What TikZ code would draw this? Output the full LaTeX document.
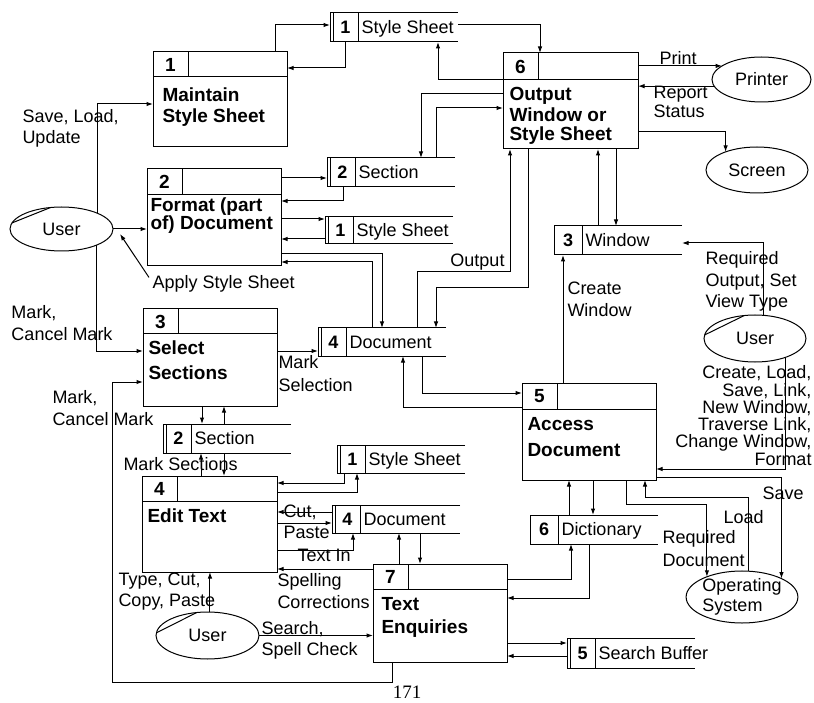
\documentclass[tikz,border=0pt]{standalone}
\usepackage{fontspec}
\setmainfont{Liberation Sans}
\newfontfamily\pagefont{Liberation Serif}
\usetikzlibrary{arrows.meta,shapes.geometric}
\tikzset{
  flow/.style={-{Latex[length=6.5pt,width=4.5pt]}},
  pbox/.style={draw, rectangle, inner sep=0pt, outer sep=0pt},
  pnum/.style={font=\bfseries\fontsize{19}{22}\selectfont, inner sep=0pt},
  ptitle/.style={font=\bfseries\fontsize{19}{22}\selectfont, inner sep=0pt, anchor=base west},
  sbox/.style={rectangle, inner sep=0pt, outer sep=0pt},
  snum/.style={font=\bfseries\fontsize{18}{20}\selectfont, inner sep=0pt},
  slab/.style={font=\fontsize{18}{20}\selectfont, inner sep=0pt, anchor=base west},
  lab/.style={font=\fontsize{18}{20}\selectfont, inner sep=0pt, anchor=base west},
  labr/.style={font=\fontsize{18}{20}\selectfont, inner sep=0pt, anchor=base east},
  ent/.style={draw, ellipse, inner sep=0pt, outer sep=0pt, font=\fontsize{18}{20}\selectfont},
}
% process box: name, x, y, w, h, header height, number
\newcommand\procbox[7]{%
  \node[pbox, minimum width=#4pt, minimum height=#5pt, anchor=north west] (#1) at (#2,#3) {};
  \draw ([yshift=-#6pt]#1.north west) -- ([yshift=-#6pt]#1.north east);
  \draw ([xshift=35pt]#1.north west) -- ([xshift=35pt,yshift=-#6pt]#1.north west);
  \node[pnum] (#1n) at ([xshift=17.5pt,yshift={-#6/2}]#1.north west) {#7};
}
% data store: name, x, y, h, number, label, double bar (1/0)
\newcommand\storebox[7]{%
  \node[sbox, minimum width=128pt, minimum height=#4pt, anchor=north west] (#1) at (#2,#3) {};
  \draw (#1.north east) -- (#1.north west) -- (#1.south west) -- (#1.south east);
  \draw ([xshift=28pt]#1.north west) -- ([xshift=28pt]#1.south west);
  \ifnum#7=1 \draw ([xshift=3pt]#1.north west) -- ([xshift=3pt]#1.south west);\fi
  \node[snum] (#1n) at ([xshift={(28+3*#7)/2}]#1.west) {#5};
  \node[slab] (#1t) at ([xshift=31pt, yshift={-#4/2-6.4}]#1.north west) {#6};
}
\begin{document}
\begin{tikzpicture}[x=1pt, y=-1pt, line width=1pt]
\fill[white] (0,0) rectangle (814,703);
\useasboundingbox (0,0) rectangle (814,703);

% ---------- processes ----------
\procbox{p1}{153}{52}{134}{95}{25}{1}
\node[ptitle] (t1a) at (162,102) {Maintain};
\node[ptitle] (t1b) at (162,123) {Style Sheet};
\procbox{p2}{147}{169}{134}{97}{26}{2}
\node[ptitle] (t2a) at (150,212) {Format (part};
\node[ptitle] (t2b) at (150,230) {of) Document};
\procbox{p3}{143}{309}{134}{97}{25}{3}
\node[ptitle] (t3a) at (148,355) {Select};
\node[ptitle] (t3b) at (148,379) {Sections};
\procbox{p4}{142}{476}{135}{96}{25}{4}
\node[ptitle] (t4a) at (147,522) {Edit Text};
\procbox{p5}{522}{383}{134}{97}{26}{5}
\node[ptitle] (t5a) at (527,430) {Access};
\node[ptitle] (t5b) at (527,456) {Document};
\procbox{p6}{503}{53}{135}{96}{27}{6}
\node[ptitle] (t6a) at (509,101) {Output};
\node[ptitle] (t6b) at (509,122) {Window or};
\node[ptitle] (t6c) at (509,141) {Style Sheet};
\procbox{p7}{373}{564}{134}{98}{25}{7}
\node[ptitle] (t7a) at (381,610) {Text};
\node[ptitle] (t7b) at (381,633) {Enquiries};

% ---------- data stores ----------
\storebox{s1a}{330}{13}{29}{1}{Style Sheet}{1}
\storebox{s2a}{327}{158}{29}{2}{Section}{1}
\storebox{s1b}{325}{217}{27}{1}{Style Sheet}{1}
\storebox{s3}{554}{226}{29}{3}{Window}{0}
\storebox{s4a}{318}{328}{28}{4}{Document}{1}
\storebox{s2b}{163}{424}{29}{2}{Section}{1}
\storebox{s1c}{337}{445}{28}{1}{Style Sheet}{1}
\storebox{s4b}{332}{505}{28}{4}{Document}{1}
\storebox{s6}{530}{515}{29}{6}{Dictionary}{0}
\storebox{s5}{567}{638}{30}{5}{Search Buffer}{1}

% ---------- external entities ----------
\node[ent, minimum width=103pt, minimum height=44pt] (u1) at (61.5,229) {User};
\node[ent, minimum width=99pt, minimum height=45pt] (printer) at (761.5,79.5) {Printer};
\node[ent, minimum width=102pt, minimum height=46pt] (screen) at (757,170) {Screen};
\node[ent, minimum width=102pt, minimum height=47pt] (u2) at (755,338.5) {User};
\node[ent, minimum width=102pt, minimum height=48pt, align=left] (os) at (742,597) {Operating\\System};
\node[ent, minimum width=103pt, minimum height=47pt] (u3) at (207.5,635.5) {User};
\draw (u1.173) -- (u1.117);
\draw (u2.176) -- (u2.115);
\draw (u3.177) -- (u3.115);

% ---------- flows ----------
% Maintain Style Sheet
\draw[flow] (p1.north -| 275,0) |- (s1a.west |- 0,25);
\draw[flow] (s1a.south -| 345,0) |- (p1.east |- 0,68);
% Output Window
\draw[flow] (s1a.east |- 0,25) -| (p6.north -| 540,0);
\draw[flow] (p6.west |- 0,80) -| (s1a.south -| 438,0);
\draw[flow] (p6.west |- 0,94) -| (s2a.north -| 421,0);
\draw[flow] (s2a.north -| 436,0) |- (p6.west |- 0,108);
% Format
\draw[flow] (p2.east |- 0,178) -- (s2a.west |- 0,178);
\draw[flow] (s2a.south -| 343,0) |- (p2.east |- 0,201);
\draw[flow] (p2.east |- 0,219) -- (s1b.west |- 0,219);
\draw[flow] (s1b.west |- 0,239) -- (p2.east |- 0,239);
\draw[flow] (p2.east |- 0,254) -| (s4a.north -| 382,0);
\draw[flow] (s4a.north -| 372,0) |- (p2.east |- 0,262);
\draw[flow] (s4a.north -| 417,0) |- (510,272) -- (p6.south -| 510,0);
\draw[flow] (p6.south -| 528,0) |- (436,288) -- (s4a.north -| 436,0);
% Select Sections
\draw[flow] (p3.east |- 0,351) -- (s4a.west |- 0,351);
\draw[flow] (s4a.south -| 422,0) |- (p5.west |- 0,393);
\draw[flow] (p5.west |- 0,407) -| (s4a.south -| 403,0);
\draw[flow] (p3.south -| 202,0) -- (s2b.north -| 202,0);
\draw[flow] (s2b.north -| 224,0) -- (p3.south -| 224,0);
\draw[flow] (p4.north -| 201,0) -- (s2b.south -| 201,0);
\draw[flow] (s2b.south -| 224,0) -- (p4.north -| 224,0);
% Edit Text
\draw[flow] (s1c.south -| 344,0) |- (p4.east |- 0,483);
\draw[flow] (p4.east |- 0,492) -| (s1c.south -| 357,0);
\draw[flow] (s4b.west |- 0,512) -- (p4.east |- 0,512);
\draw[flow] (p4.east |- 0,523) -- (s4b.west |- 0,523);
\draw[flow] (p4.east |- 0,550) -| (s4b.south -| 353,0);
\draw[flow] (p7.west |- 0,569) -- (p4.east |- 0,569);
% Text Enquiries
\draw[flow] (p7.north -| 399,0) -- (s4b.south -| 399,0);
\draw[flow] (s4b.south -| 420,0) -- (p7.north -| 420,0);
\draw[flow] (p7.east |- 0,579) -| (s6.south -| 571,0);
\draw[flow] (s6.south -| 589,0) |- (p7.east |- 0,598);
\draw[flow] (s6.north -| 569,0) -- (p5.south -| 569,0);
\draw[flow] (p5.south -| 593,0) -- (s6.north -| 593,0);
\draw[flow] (p7.east |- 0,643) -- (s5.west |- 0,643);
\draw[flow] (s5.west |- 0,656) -- (p7.east |- 0,656);
\draw[flow] (u3.east) -- (p7.west |- u3.east);
\draw[flow] (u3.84) -- (p4.south -| u3.84);
\draw[flow] (p7.south -| 392,0) |- (112,682) |- (p3.west |- 0,382);
% left user
\draw[flow] (u1.24) |- (p1.west |- 0,104);
\draw[flow] (u1.east) -- (p2.west |- u1.east);
\draw[flow] (u1.335) |- (p3.west |- 0,351);
% printer, screen, window
\draw[flow] (p6.east |- printer.161) -- (printer.161);
\draw[flow] (printer.188) -- (p6.east |- printer.188);
\draw[flow] (p6.east |- 0,132) -| (screen.150);
\draw[flow] (s3.north -| 598,0) -- (p6.south -| 598,0);
\draw[flow] (p6.south -| 616,0) -- (s3.north -| 616,0);
\draw[flow] (p5.north -| 563,0) -- (s3.south -| 563,0);
\draw[flow] (u2.69) |- (s3.east |- 0,243);
\draw[flow] (u2.328) |- (p5.east |- 0,469);
% operating system
\draw[flow] (p5.east |- 0,477) -| (os.25);
\draw[flow] (os.76) |- (645,497) -- (p5.south -| 645,0);
\draw[flow] (p5.south -| 626,0) -- (626,504) -| (os.150);

% ---------- flow labels ----------
\node[lab] (sl1) at (22,123) {Save, Load,};
\node[lab] (sl2) at (22,144) {Update};
\node[lab] (ap) at (152,289) {Apply Style Sheet};
\coordinate (apt) at (120,234);
\draw[flow] ([xshift=-3pt,yshift=-2pt]ap.north west) -- (apt);
\node[lab] (mc1) at (11,319) {Mark,};
\node[lab] (mc2) at (11,341) {Cancel Mark};
\node[lab] (mcb1) at (52,403) {Mark,};
\node[lab] (mcb2) at (52,425) {Cancel Mark};
\node[lab] (ms1) at (278,368) {Mark};
\node[lab] (ms2) at (278,391) {Selection};
\node[lab] (msec) at (123,470) {Mark Sections};
\node[lab] (cut) at (283,517) {Cut,};
\node[lab] (paste) at (283,538) {Paste};
\node[lab] (textin) at (297,561) {Text In};
\node[lab] (sp1) at (277,586) {Spelling};
\node[lab] (sp2) at (277,608) {Corrections};
\node[lab] (tc1) at (118,585) {Type, Cut,};
\node[lab] (tc2) at (118,606) {Copy, Paste};
\node[lab] (se1) at (261,634) {Search,};
\node[lab] (se2) at (261,655) {Spell Check};
\node[labr] (outl) at (505,267) {Output};
\node[lab] (pr) at (659,65) {Print};
\node[lab] (rs1) at (653,99) {Report};
\node[lab] (rs2) at (653,118) {Status};
\node[lab] (cw1) at (567,295) {Create};
\node[lab] (cw2) at (567,317) {Window};
\node[lab] (ro1) at (705,265) {Required};
\node[lab] (ro2) at (705,287) {Output, Set};
\node[lab] (ro3) at (705,308) {View Type};
\node[labr] (cl1) at (812,378) {Create, Load,};
\node[labr] (cl2) at (812,396) {Save, Link,};
\node[labr] (cl3) at (812,413) {New Window,};
\node[labr] (cl4) at (812,430) {Traverse Link,};
\node[labr] (cl5) at (812,447) {Change Window,};
\node[labr] (cl6) at (812,465) {Format};
\node[lab] (savel) at (762,499) {Save};
\node[lab] (loadl) at (723,523) {Load};
\node[lab] (rd1) at (662,543) {Required};
\node[lab] (rd2) at (662,566) {Document};
\node[font=\pagefont\fontsize{19}{20}\selectfont, inner sep=0pt] (pg) at (407,692) {171};
\end{tikzpicture}
\end{document}
